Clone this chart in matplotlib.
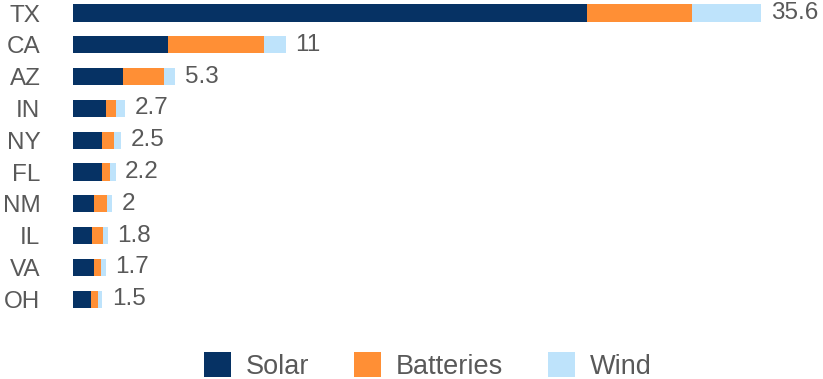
import matplotlib
matplotlib.use("Agg")
import matplotlib.pyplot as plt
from matplotlib.patches import Patch

plt.rcParams["font.family"] = ["Liberation Sans", "DejaVu Sans"]

# GW by state, stacked by technology
states = ["TX", "CA", "AZ", "IN", "NY", "FL", "NM", "IL", "VA", "OH"]
solar = [26.6, 4.9, 2.6, 1.7, 1.5, 1.5, 1.1, 1.0, 1.1, 0.95]
batteries = [5.4, 5.0, 2.1, 0.5, 0.6, 0.4, 0.65, 0.55, 0.35, 0.32]
wind = [3.6, 1.1, 0.6, 0.5, 0.4, 0.3, 0.25, 0.25, 0.25, 0.23]
totals = [35.6, 11, 5.3, 2.7, 2.5, 2.2, 2, 1.8, 1.7, 1.5]

series_names = ["Solar", "Batteries", "Wind"]
COLORS = ["#063264", "#FF8F35", "#BEE3FB"]
TEXT = "#595959"

W, H = 823, 379
fig = plt.figure(figsize=(W / 100, H / 100), dpi=100)

# axes spans x 73..823 px, y 0..330 px
ax = fig.add_axes([73 / W, 1 - 330 / H, 750 / W, 330 / H])
ax.set_xlim(0, 750 / 19.33)
row = 31.8
ax.set_ylim((330 - 13) / row, -13 / row)

ypos = list(range(len(states)))
left = [0.0] * len(states)
for vals, color in zip([solar, batteries, wind], COLORS):
    ax.barh(ypos, vals, left=left, height=0.54, color=color, linewidth=0)
    left = [l + v for l, v in zip(left, vals)]

for y, tot in zip(ypos, totals):
    ax.text(tot + 0.5, y, f"{tot:g}", va="center", ha="left",
            fontsize=17.5, color=TEXT)

ax.set_yticks(ypos)
ax.set_yticklabels(states, fontsize=17.5, color=TEXT)
ax.tick_params(axis="y", length=0, pad=23.5)
ax.set_xticks([])
for s in ax.spines.values():
    s.set_visible(False)

handles = [Patch(facecolor=c, edgecolor="none") for c in COLORS]
fig.legend(handles, series_names, loc="center", bbox_to_anchor=(428 / W, 1 - 366 / H),
           ncol=3, frameon=False, fontsize=19.5, labelcolor=TEXT,
           handlelength=1.0, handleheight=1.0, handletextpad=0.55,
           columnspacing=1.65, borderpad=0)

fig.savefig("out.png", dpi=100)
